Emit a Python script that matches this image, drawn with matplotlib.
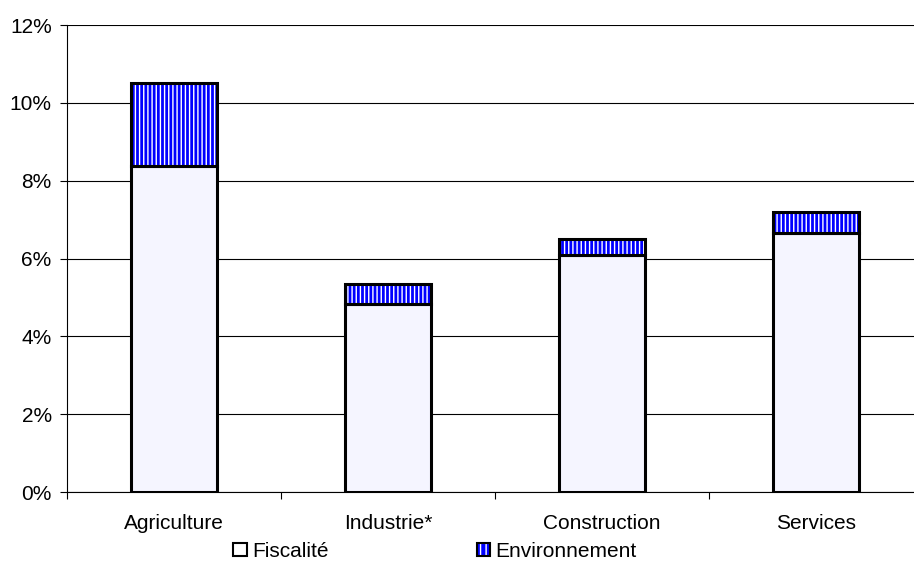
import matplotlib
matplotlib.use("Agg")
import matplotlib.pyplot as plt
import matplotlib.patches as mpatches
import numpy as np

plt.rcParams["font.family"] = ["Liberation Sans", "DejaVu Sans"]
plt.rcParams["font.size"] = 15
plt.rcParams["hatch.linewidth"] = 1.0

categories = ["Agriculture", "Industrie*", "Construction", "Services"]
fiscalite = [8.38, 4.83, 6.09, 6.65]
environnement = [2.13, 0.51, 0.41, 0.54]
yticks = [0, 2, 4, 6, 8, 10, 12]

FACE_FISC = "#f5f5ff"
BLUE = "#0000ff"

fig = plt.figure(figsize=(9.14, 5.66), dpi=100)
ax = fig.add_axes([0.0733, 0.1307, 0.9365, 0.825])

x = np.arange(len(categories))
w = 0.40

ax.bar(x, fiscalite, width=w, color=FACE_FISC, edgecolor="black", linewidth=2.2, zorder=3)
# striped part: blue fill with white vertical hatch, then black border on top
ax.bar(x, environnement, width=w, bottom=fiscalite, color=BLUE, edgecolor="white",
       hatch="||||", linewidth=0, zorder=3)
ax.bar(x, environnement, width=w, bottom=fiscalite, fill=False, edgecolor="black",
       linewidth=2.2, zorder=4)

ax.set_xlim(-0.5, len(categories) - 0.5)
ax.set_ylim(0, 12)
ax.set_yticks(yticks)
ax.set_yticklabels([f"{v}%" for v in yticks])
ax.yaxis.grid(True, color="black", linewidth=0.8)
ax.set_axisbelow(True)

ax.set_xticks(x)
ax.set_xticklabels(categories)
ax.set_xticks(np.arange(len(categories)) - 0.5, minor=True)
ax.tick_params(axis="x", which="major", length=0, pad=16)
ax.tick_params(axis="x", which="minor", length=5, width=0.8, direction="out")
ax.tick_params(axis="y", length=5, width=0.8, pad=6)

for s in ["top", "right"]:
    ax.spines[s].set_visible(False)
ax.spines["left"].set_linewidth(0.8)
ax.spines["bottom"].set_linewidth(0.8)

h1 = mpatches.Patch(facecolor="white", edgecolor="black", linewidth=1.5)
h2 = mpatches.Patch(facecolor=BLUE, edgecolor="white", hatch="|||", linewidth=0)
h2b = mpatches.Patch(fill=False, edgecolor="black", linewidth=1.5)
fig.legend([h1, (h2, h2b)], ["Fiscalité", "Environnement"], loc="center",
           bbox_to_anchor=(0.476, 0.026), ncol=2, frameon=False,
           handlelength=0.65, handleheight=0.65, handletextpad=0.25, columnspacing=7.1,
           fontsize=15)

fig.savefig("out.png", dpi=100)
